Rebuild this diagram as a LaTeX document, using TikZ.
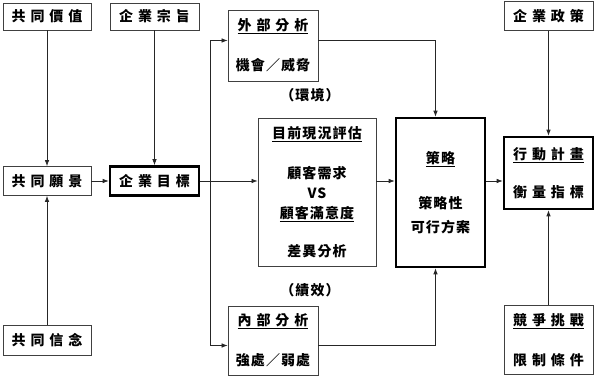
\documentclass[tikz,border=0pt]{standalone}
\usepackage{fontspec}
\newfontfamily\cjk[LetterSpace=8]{Noto Sans CJK TC}
\newfontfamily\cjkw[LetterSpace=35]{Noto Sans CJK TC}
\usetikzlibrary{arrows.meta, positioning, calc}

\begin{document}
\begin{tikzpicture}[
    x=1pt, y=-1pt,
    box/.style={rectangle, draw=black!75, line width=0.8pt, minimum width=88pt, minimum height=28pt, inner sep=0pt, align=center, font=\cjkw\bfseries\fontsize{14}{20}\selectfont},
    thickbox/.style={box, draw=black, line width=2.6pt},
    tightbox/.style={box, font=\cjk\bfseries\fontsize{14}{20}\selectfont},
    note/.style={font=\cjk\bfseries\fontsize{14}{20}\selectfont},
    arrow/.style={-{Latex[length=6pt, width=4.5pt]}, line width=0.7pt, black!85},
]
\useasboundingbox (0,0) rectangle (600,382);

% ===== Left: values, mission, vision, goal =====
\node[box, minimum width=88pt, minimum height=27pt] (value) at (47, 16.5) {共同價值};
\node[box, minimum width=89pt, minimum height=27pt] (mission) at (154.5, 16.5) {企業宗旨};
\node[box, minimum width=88pt, minimum height=29pt] (vision) at (47, 181) {共同願景};
\node[thickbox, minimum width=89pt, minimum height=29pt] (goal) at (154.5, 181) {企業目標};
\node[box, minimum width=88pt, minimum height=30pt] (belief) at (47, 340) {共同信念};

% ===== Middle: analysis =====
\node[box, minimum width=90pt, minimum height=71pt] (ext) at (273, 45.5) {\underline{外部分析}\\[20pt]{\cjk 機會／威脅}};
\node[note] (envlabel) at (310, 95) {（環境）};

\node[tightbox, minimum width=118pt, minimum height=148pt] (current) at (317, 192)
    {\underline{目前現況評估}\\[20pt]顧客需求\\VS\\\underline{顧客滿意度}\\[18pt]差異分析};

\node[note] (perflabel) at (310, 290) {（績效）};
\node[box, minimum width=90pt, minimum height=69pt] (int) at (273, 340.5) {\underline{內部分析}\\[20pt]{\cjk 強處／弱處}};

% ===== Strategy =====
\node[thickbox, font=\cjk\bfseries\fontsize{14}{20}\selectfont, minimum width=89pt, minimum height=149pt] (strategy) at (440.5, 192.5)
    {\underline{策略}\\[25pt]策略性\\[4pt]可行方案};

% ===== Right: policy, action, competition =====
\node[box, minimum width=89pt, minimum height=29pt] (policy) at (548.5, 16) {企業政策};
\node[thickbox, minimum width=89pt, minimum height=72pt] (action) at (548.5, 173) {\underline{行動計畫}\\[18pt]衡量指標};
\node[box, minimum width=89pt, minimum height=69pt] (compete) at (548.5, 340) {\underline{競爭挑戰}\\[20pt]限制條件};

% ===== Arrows =====
\draw[arrow] (value.south) -- (vision.north);
\draw[arrow] (belief.north) -- (vision.south);
\draw[arrow] (mission.south) -- (goal.north);
\draw[arrow] (vision.east) -- (goal.west);

\coordinate (split) at ($(goal.east)+(10,0)$);
\draw[arrow] (goal.east) -- (goal.east -| current.west);
\draw[arrow] (split) |- ([yshift=5pt]ext.west);
\draw[arrow] (split) |- ([yshift=-5pt]int.west);

\draw[arrow] ([yshift=5pt]ext.east) -| ([xshift=-5pt]strategy.north);
\draw[arrow] ([yshift=-5pt]int.east) -| ([xshift=-5pt]strategy.south);
\draw[arrow] (goal.east -| current.east) -- (goal.east -| strategy.west);
\draw[arrow] (goal.east -| strategy.east) -- (goal.east -| action.west);

\draw[arrow] (policy.south) -- (action.north);
\draw[arrow] (compete.north) -- (action.south);

\end{tikzpicture}
\end{document}
